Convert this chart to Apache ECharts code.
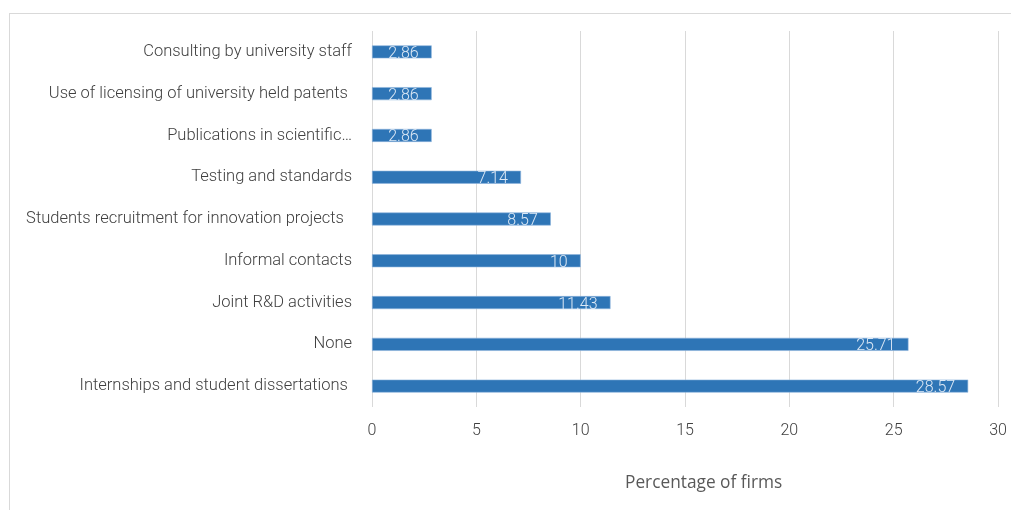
<!DOCTYPE html>
<html>
<head>
<meta charset="utf-8">
<script src="https://cdn.jsdelivr.net/npm/echarts@6/dist/echarts.min.js"></script>
<style>
  html, body { margin: 0; padding: 0; background: #ffffff; }
  #frame { position: absolute; left: 9px; top: 13px; width: 1100px; height: 600px;
           border-left: 1px solid #d9d9d9; border-top: 1px solid #d9d9d9; }
  #chart { position: absolute; left: 0; top: 0; width: 1011px; height: 510px; }
</style>
</head>
<body>
<div id="frame"></div>
<div id="chart"></div>
<script>
// Channels of firm–university collaboration, listed top to bottom
const categories = [
  'Consulting by university staff',
  'Use of licensing of university held patents ',
  'Publications in scientific…',
  'Testing and standards',
  'Students recruitment for innovation projects  ',
  'Informal contacts',
  'Joint R&D activities',
  'None',
  'Internships and student dissertations '
];
const shares = [2.86, 2.86, 2.86, 7.14, 8.57, 10, 11.43, 25.71, 28.57];
const xTicks = [0, 5, 10, 15, 20, 25, 30];
const xTitle = 'Percentage of firms';

const chart = echarts.init(document.getElementById('chart'), null, { renderer: 'canvas' });
chart.setOption({
  animation: false,
  backgroundColor: 'transparent',
  grid: { left: 372, right: 13, top: 31, bottom: 103, containLabel: false },
  title: {
    text: xTitle,
    left: 620, top: 470,
    textStyle: { fontFamily: 'Open Sans', fontSize: 17.3, fontWeight: 'normal', color: '#595959' }
  },
  xAxis: {
    type: 'value',
    min: xTicks[0], max: xTicks[xTicks.length - 1], interval: 5,
    axisLine: { show: false },
    axisTick: { show: false },
    splitLine: { show: true, lineStyle: { color: '#d9d9d9', width: 1 } },
    axisLabel: { margin: 16, fontFamily: 'Roboto', fontWeight: 300, fontSize: 16, color: '#404040' }
  },
  yAxis: {
    type: 'category',
    inverse: true,
    data: categories,
    axisLine: { show: false },
    axisTick: { show: false },
    axisLabel: { margin: 20, fontFamily: 'Roboto', fontWeight: 300, fontSize: 16.5, color: '#404040' }
  },
  series: [{
    type: 'bar',
    data: shares,
    barWidth: 13,
    itemStyle: { color: '#2e75b6', borderColor: '#8fb6de', borderWidth: 0.6 },
    label: {
      show: true,
      position: 'insideRight',
      distance: 0,
      offset: [-13, 2],
      fontFamily: 'Roboto', fontWeight: 300, fontSize: 16,
      color: '#dce8f5',
      formatter: p => String(p.value)
    }
  }]
});
</script>
</body>
</html>
